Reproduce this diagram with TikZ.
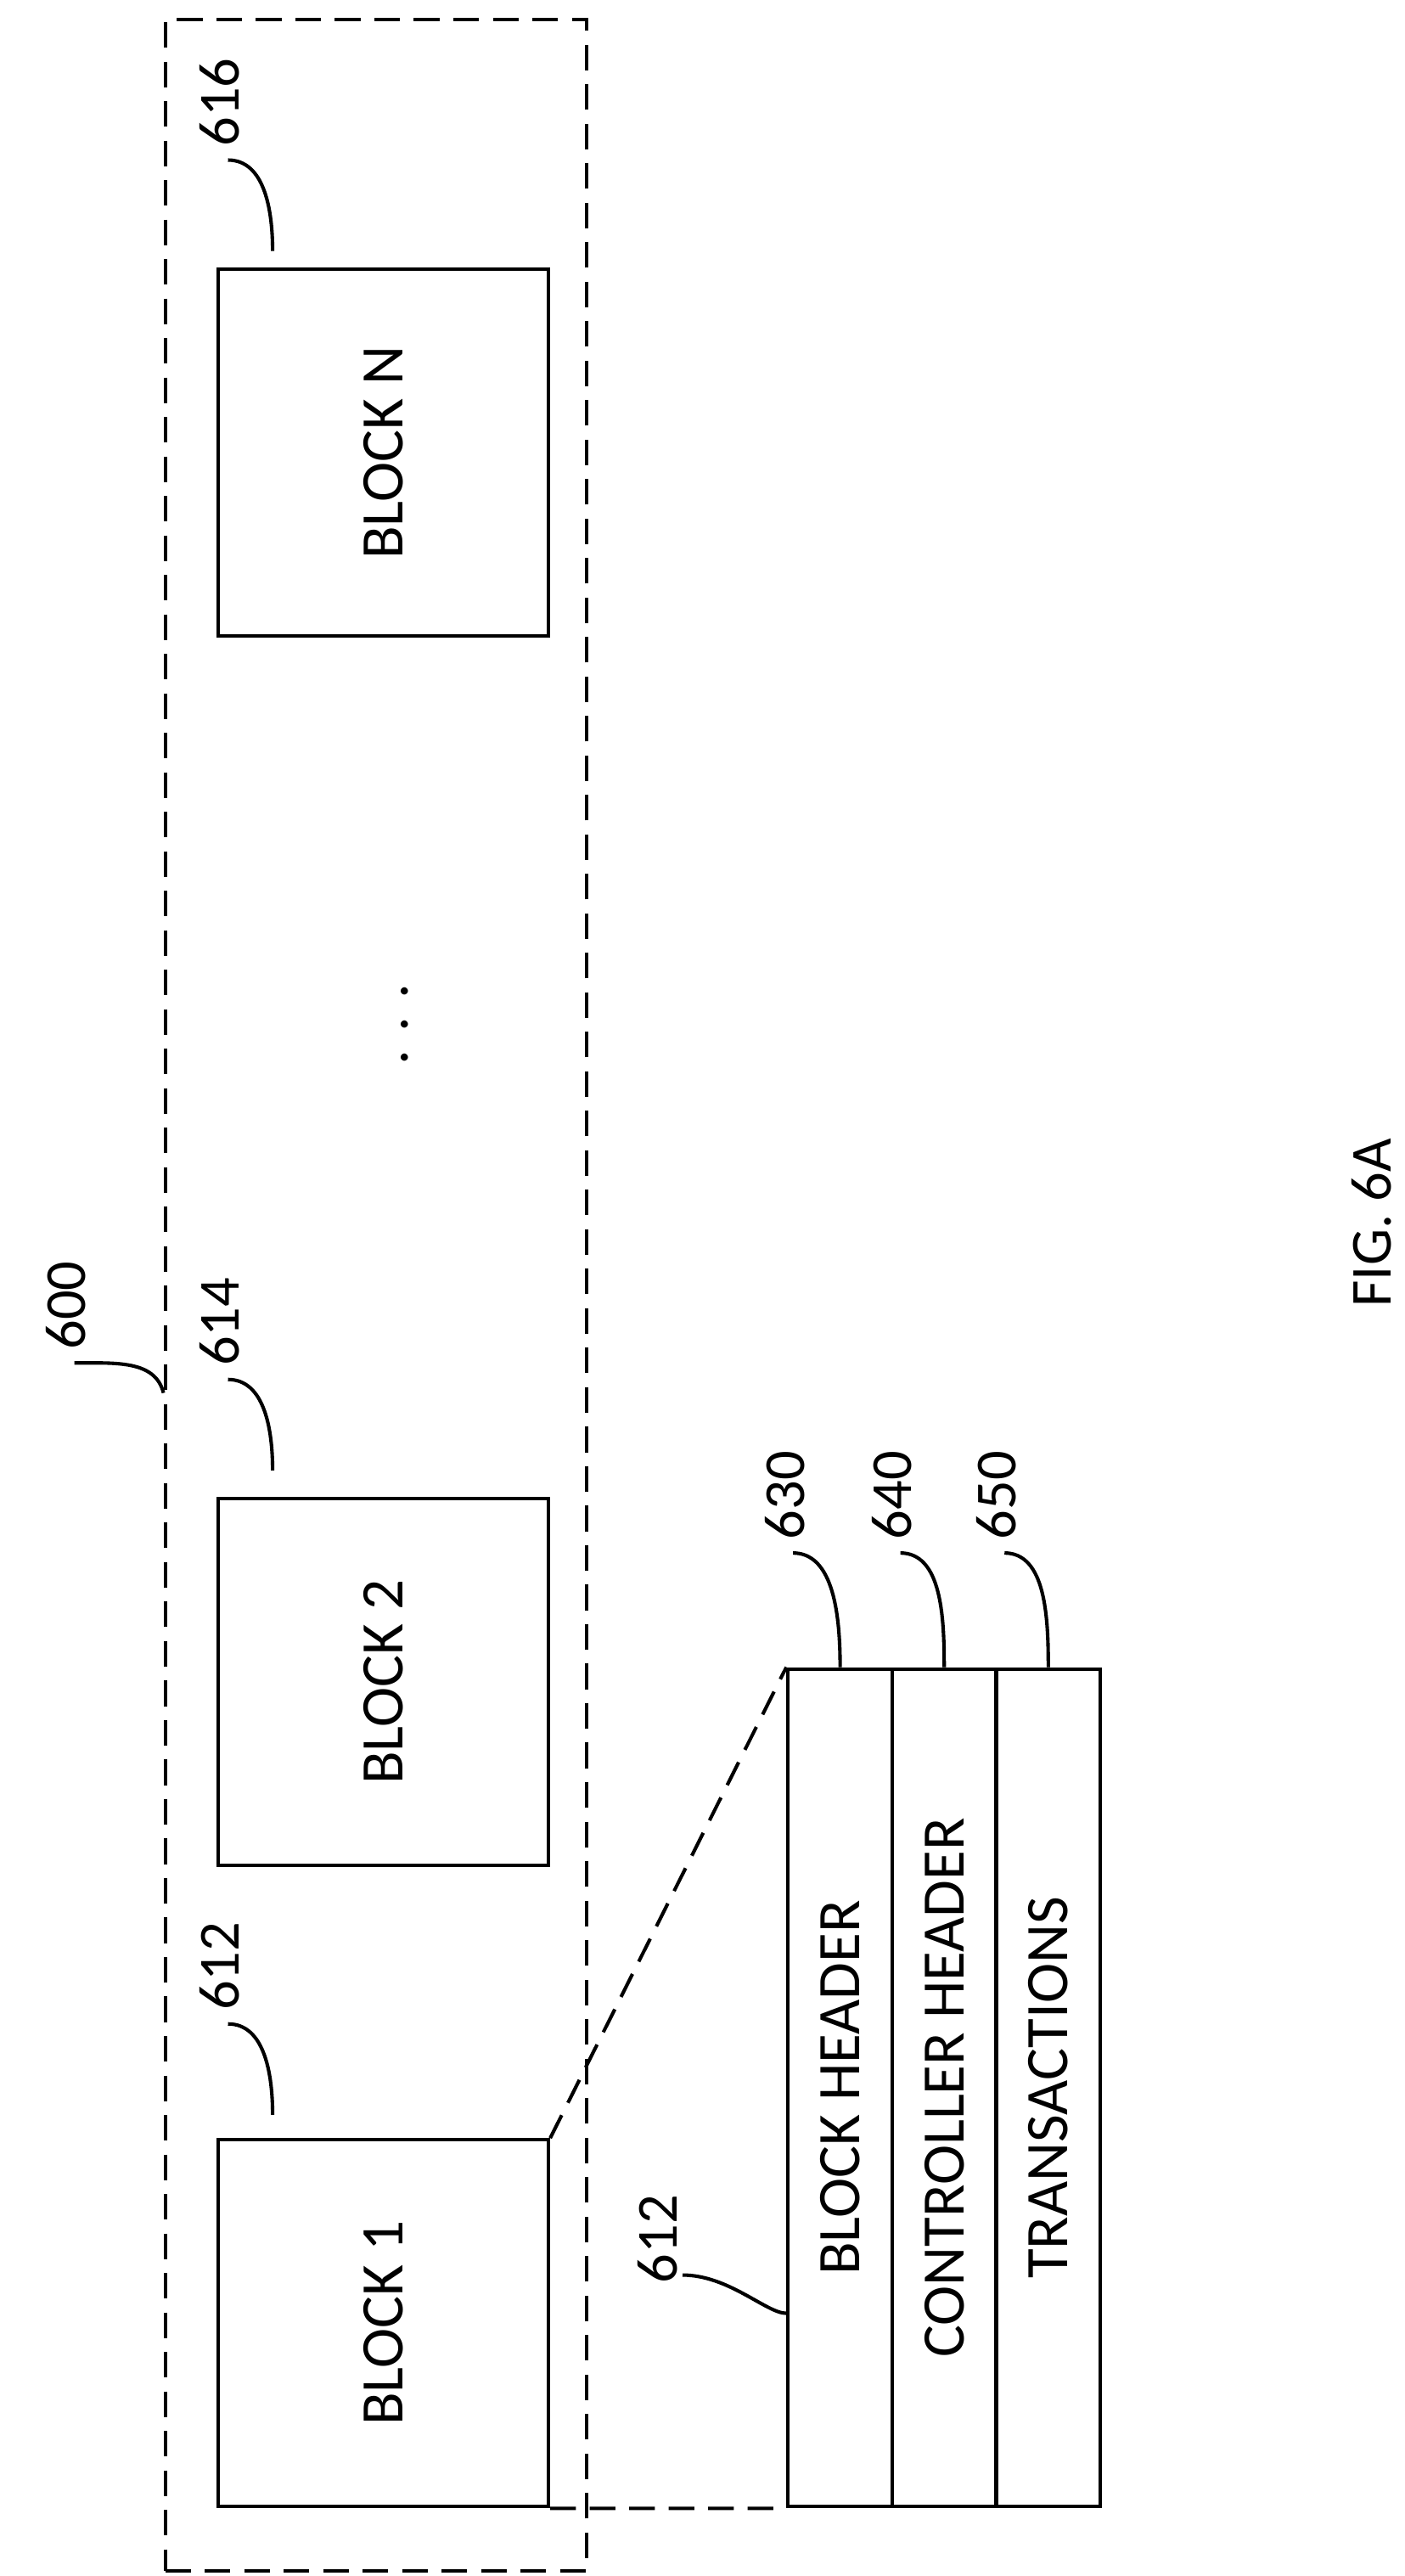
\documentclass[tikz,border=0pt]{standalone}
\usepackage{fontspec}
\setmainfont{Carlito}
\usetikzlibrary{positioning}
\tikzset{
    block/.style={
    rectangle,draw=black,line width=3pt,minimum width=10cm,minimum height=11.1cm,inner sep=0pt
    },
    slice/.style={
    rectangle,draw=black,line width=3pt,minimum width=3.15cm,minimum height=25.35cm,inner sep=0pt
    },
    btext/.style={
    rotate=90,font=\fontsize{52}{60}\selectfont
    },
    ref/.style={
    rotate=90,font=\fontsize{50}{60}\selectfont,inner sep=0pt
    },
    lead/.style={
    line width=3pt
    },
    dashline/.style={
    line width=3pt,dash pattern=on 22pt off 12pt
    },
}
\begin{document}
\begin{tikzpicture}[x=0.05cm, y=-0.05cm]
   \useasboundingbox (0,0) rectangle (850,1559);
   %chain
   \node[rectangle,draw,dashline,minimum width=12.75cm,minimum height=77.2cm] (chain) at (227.5,784) {};
   \node[ref] (l600) at (40,790) {600};
   %blocks
   \node[block] (blkn) at (232,274) {};
   \node[btext] at (blkn) {BLOCK N};
   \node[ref] (l616) at (133,62) {616};
   \node[btext] (dots) at (245,620) {. . .};
   \node[block] (blk2) at (232,1018) {};
   \node[btext] at (blk2) {BLOCK 2};
   \node[ref] (l614) at (133,800) {614};
   \node[block] (blk1) at (232,1406) {};
   \node[btext] at (blk1) {BLOCK 1};
   \node[ref] (l612) at (133,1190) {612};
   %detail
   \node[slice] (hdr) at (508.5,1263.5) {};
   \node[btext] at (hdr) {BLOCK HEADER};
   \node[slice] (ctl) at (571.5,1263.5) {};
   \node[btext] at (ctl) {CONTROLLER HEADER};
   \node[slice] (trx) at (634.5,1263.5) {};
   \node[btext] at (trx) {TRANSACTIONS};
   \node[ref] (l630) at (475,905) {630};
   \node[ref] (l640) at (540,905) {640};
   \node[ref] (l650) at (603,905) {650};
   \node[ref] (l612b) at (398,1355) {612};
   \node[ref] (fig) at (830,740) {FIG. 6A};

   \draw[dashline] (blk1.north east) -- (hdr.north west);
   \draw[dashline] (blk1.south east) -- (hdr.south west);
   %leaders
   \draw[lead] (l616.west) ++(5,8) .. controls +(22,0) and +(0,-25) .. ++(27,55);
   \draw[lead] (l614.west) ++(5,8) .. controls +(22,0) and +(0,-25) .. ++(27,55);
   \draw[lead] (l612.west) ++(5,8) .. controls +(22,0) and +(0,-25) .. ++(27,55);
   \draw[lead] (l600.west) ++(5,8) .. controls +(25,0) and +(-5,-20) .. (chain.north west |- 0,843);
   \draw[lead] (l630.west) ++(5,8) .. controls +(25,0) and +(0,-30) .. (hdr.north);
   \draw[lead] (l640.west) ++(5,8) .. controls +(25,0) and +(0,-30) .. (ctl.north);
   \draw[lead] (l650.west) ++(5,8) .. controls +(25,0) and +(0,-30) .. (trx.north);
   \draw[lead] (l612b.south west) ++(3,-5) .. controls +(28,0) and +(-12,0) .. (hdr.north west |- 0,1400);
\end{tikzpicture}
\end{document}
